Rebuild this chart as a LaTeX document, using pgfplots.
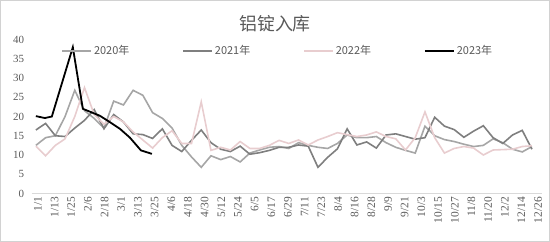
\documentclass[border=0pt]{standalone}
\usepackage{pgfplots}
\pgfplotsset{compat=1.18}
\usepackage{pgfplotstable}
\usepackage{fontspec}
\setmainfont{Liberation Serif}
\newfontfamily\cjk{Noto Sans CJK SC}
\definecolor{c2020}{HTML}{A6A6A6}
\definecolor{c2021}{HTML}{7F7F7F}
\definecolor{c2022}{HTML}{E8CDCF}
\definecolor{txt}{HTML}{595959}

\pgfplotstableread{
d v
0 12.5
7 14.5
14 15.0
21 20.0
28 26.8
35 21.5
42 19.5
49 17.0
56 24.0
63 23.0
70 26.8
77 25.5
84 21.0
91 19.5
98 17.0
105 12.5
112 9.5
119 6.8
126 9.8
133 8.8
140 9.6
147 8.2
154 10.5
161 11.3
168 12.0
175 12.2
182 11.7
189 13.2
196 12.5
203 12.0
210 11.7
217 13.0
224 15.2
231 14.5
238 14.5
245 14.8
252 13.2
259 12.0
266 11.2
273 10.5
280 17.5
287 15.0
294 14.0
301 13.5
308 12.8
315 12.2
322 12.5
329 14.2
336 13.2
343 11.5
350 10.8
357 12.2
}\tA

\pgfplotstableread{
d v
0 16.5
7 18.2
14 15.0
21 14.8
28 17.0
35 19.0
42 21.8
49 16.8
56 20.5
63 18.6
70 15.5
77 15.3
84 14.3
91 16.8
98 12.5
105 10.9
112 13.8
119 16.5
126 13.2
133 11.5
140 10.9
147 12.3
154 10.2
161 10.6
168 11.2
175 12.0
182 12.0
189 12.6
196 12.3
203 6.8
210 9.4
217 11.6
224 16.8
231 12.6
238 13.4
245 11.8
252 15.2
259 15.5
266 14.8
273 14.1
280 14.5
287 19.8
294 17.5
301 16.6
308 14.6
315 16.2
322 17.6
329 14.5
336 13.0
343 15.2
350 16.4
357 11.5
}\tB

\pgfplotstableread{
d v
0 12.3
7 9.8
14 12.5
21 14.2
28 20.0
35 27.5
42 20.5
49 18.0
56 20.0
63 18.6
70 16.0
77 13.9
84 11.8
91 14.5
98 16.3
105 13.0
112 13.0
119 23.8
126 11.2
133 12.0
140 11.3
147 13.5
154 11.7
161 11.7
168 12.5
175 13.8
182 13.0
189 13.9
196 12.6
203 13.9
210 14.8
217 15.8
224 15.3
231 14.8
238 15.2
245 16.0
252 14.8
259 14.2
266 11.3
273 14.5
280 21.2
287 14.5
294 10.5
301 11.7
308 12.2
315 11.8
322 10.0
329 11.3
336 11.4
343 11.5
350 12.2
357 12.4
}\tC

\pgfplotstableread{
d v
0 20.1
6.5 19.6
11.5 20.0
26.6 38.0
33.8 22.0
46 20.2
53 18.6
60.5 16.8
67.7 14.5
75.6 11.2
83.5 10.3
}\tD

\begin{document}
\begin{tikzpicture}
\draw[gray!35, line width=0.8bp] (0.4bp,0.4bp) rectangle (549.6bp,241.6bp);
\node[font=\cjk\fontsize{18}{20}\selectfont, text=txt] at (275bp,218bp) {铝锭入库};
\begin{axis}[
  at={(31.7bp,48.5bp)}, anchor=south west,
  scale only axis, width=510bp, height=154bp,
  xmin=-3, xmax=364, ymin=0, ymax=40,
  separate axis lines,
  axis x line*=bottom, axis y line*=left,
  x axis line style={draw=gray!30, line width=0.8bp, -},
  y axis line style={draw=none},
  tick style={draw=none},
  ytick={0,5,...,40},
  xtick={0,12,...,360},
  xticklabels={1/1,1/13,1/25,2/6,2/18,3/1,3/13,3/25,4/6,4/18,4/30,5/12,5/24,6/5,6/17,6/29,7/11,7/23,8/4,8/16,8/28,9/9,9/21,10/3,10/15,10/27,11/8,11/20,12/2,12/14,12/26},
  xticklabel style={rotate=90, anchor=east, font=\fontsize{11.5}{12}\selectfont, text=txt, yshift=-2bp},
  yticklabel style={font=\fontsize{11}{12}\selectfont, text=txt, xshift=-4bp},
  /pgf/number format/assume math mode=true,
  legend columns=4,
  legend style={at={(rel axis cs:0.058,0.925)}, anchor=west, draw=none, fill=none,
    inner sep=0pt, font=\cjk\fontsize{11}{12}\selectfont, text=txt,
    /tikz/every even column/.append style={column sep=51bp}},
  legend cell align=left,
  legend image code/.code={\draw[#1] (0bp,0bp) -- (29bp,0bp);},
]
\addplot[c2020, line width=1.6bp] table[x=d, y=v] {\tA};
\addlegendentry{2020年}
\addplot[c2021, line width=1.6bp] table[x=d, y=v] {\tB};
\addlegendentry{2021年}
\addplot[c2022, line width=1.6bp] table[x=d, y=v] {\tC};
\addlegendentry{2022年}
\addplot[black, line width=1.8bp] table[x=d, y=v] {\tD};
\addlegendentry{2023年}
\end{axis}
\end{tikzpicture}
\end{document}
